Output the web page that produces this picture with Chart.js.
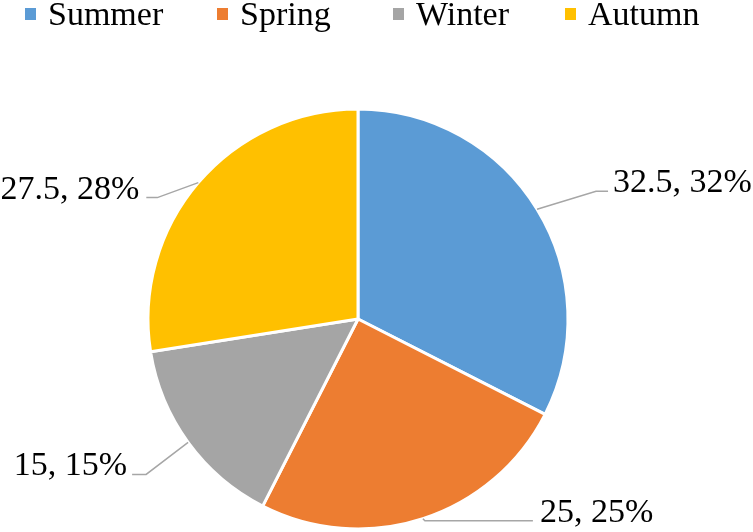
<!DOCTYPE html>
<html>
<head>
<meta charset="utf-8">
<style>
  html, body { margin: 0; padding: 0; background: #ffffff; }
  #wrap { width: 753px; height: 532px; position: relative; }
</style>
<script src="https://cdn.jsdelivr.net/npm/chart.js@4/dist/chart.umd.min.js"></script>
</head>
<body>
<div id="wrap"><canvas id="c" width="753" height="532"></canvas></div>
<script>
// ---- data ----
const categories = ['Summer', 'Spring', 'Winter', 'Autumn'];
const seasonValues = [32.5, 25, 15, 27.5];
const percentLabels = [32, 25, 15, 28];
const seriesColors = ['#5B9BD5', '#ED7D31', '#A5A5A5', '#FFC000'];

const FONT = '34px "Liberation Serif", "Times New Roman", serif';

// legend item x positions (square left) – layout only
const legendLayout = [25, 217, 393, 565];

// leader layout per slice: elbow offset from arc midpoint, horizontal run, text gap
const leaderLayout = [
  { ex: 59, ey: -18, run: 12, gap: 5 },
  { ex: 2, ey: 2, run: 108, gap: 7 },
  { ex: -42, ey: 32, run: -14, gap: 5 },
  { ex: -41, ey: 15, run: -11, gap: 7 }
];

const customPlugin = {
  id: 'customDecor',
  afterDraw(chart) {
    const ctx = chart.ctx;
    const labels = chart.data.labels;
    const colors = chart.data.datasets[0].backgroundColor;
    const values = chart.data.datasets[0].data;
    ctx.save();
    // legend
    ctx.font = FONT;
    ctx.textBaseline = 'alphabetic';
    ctx.textAlign = 'left';
    labels.forEach((lab, i) => {
      const x = legendLayout[i];
      ctx.fillStyle = colors[i];
      ctx.fillRect(x, 8, 11, 12);
      ctx.fillStyle = '#000000';
      ctx.fillText(lab, x + 23, 25);
    });
    // data labels with leader lines
    const meta = chart.getDatasetMeta(0);
    meta.data.forEach((arc, i) => {
      const p = arc.getProps(['x', 'y', 'startAngle', 'endAngle', 'outerRadius'], true);
      const mid = (p.startAngle + p.endAngle) / 2;
      const sx = p.x + Math.cos(mid) * p.outerRadius;
      const sy = p.y + Math.sin(mid) * p.outerRadius;
      const L = leaderLayout[i];
      const elx = sx + L.ex, ely = sy + L.ey;
      const endx = elx + L.run;
      ctx.strokeStyle = '#A6A6A6';
      ctx.lineWidth = 1.5;
      ctx.beginPath();
      ctx.moveTo(sx, sy);
      ctx.lineTo(elx, ely);
      ctx.lineTo(endx, ely);
      ctx.stroke();
      const txt = values[i] + ', ' + percentLabels[i] + '%';
      ctx.fillStyle = '#000000';
      ctx.font = FONT;
      if (L.run >= 0) {
        ctx.textAlign = 'left';
        ctx.fillText(txt, endx + L.gap, ely + 1);
      } else {
        ctx.textAlign = 'right';
        ctx.fillText(txt, endx - L.gap, ely + 1);
      }
    });
    ctx.restore();
  }
};

new Chart(document.getElementById('c'), {
  type: 'pie',
  data: {
    labels: categories,
    datasets: [{
      data: seasonValues,
      backgroundColor: seriesColors,
      borderColor: '#ffffff',
      borderWidth: 3
    }]
  },
  options: {
    responsive: false,
    animation: false,
    radius: 210,
    layout: { padding: { top: 110, bottom: 4, left: 140, right: 177 } },
    plugins: {
      legend: { display: false },
      tooltip: { enabled: false },
      title: { display: false }
    }
  },
  plugins: [customPlugin]
});
</script>
</body>
</html>
